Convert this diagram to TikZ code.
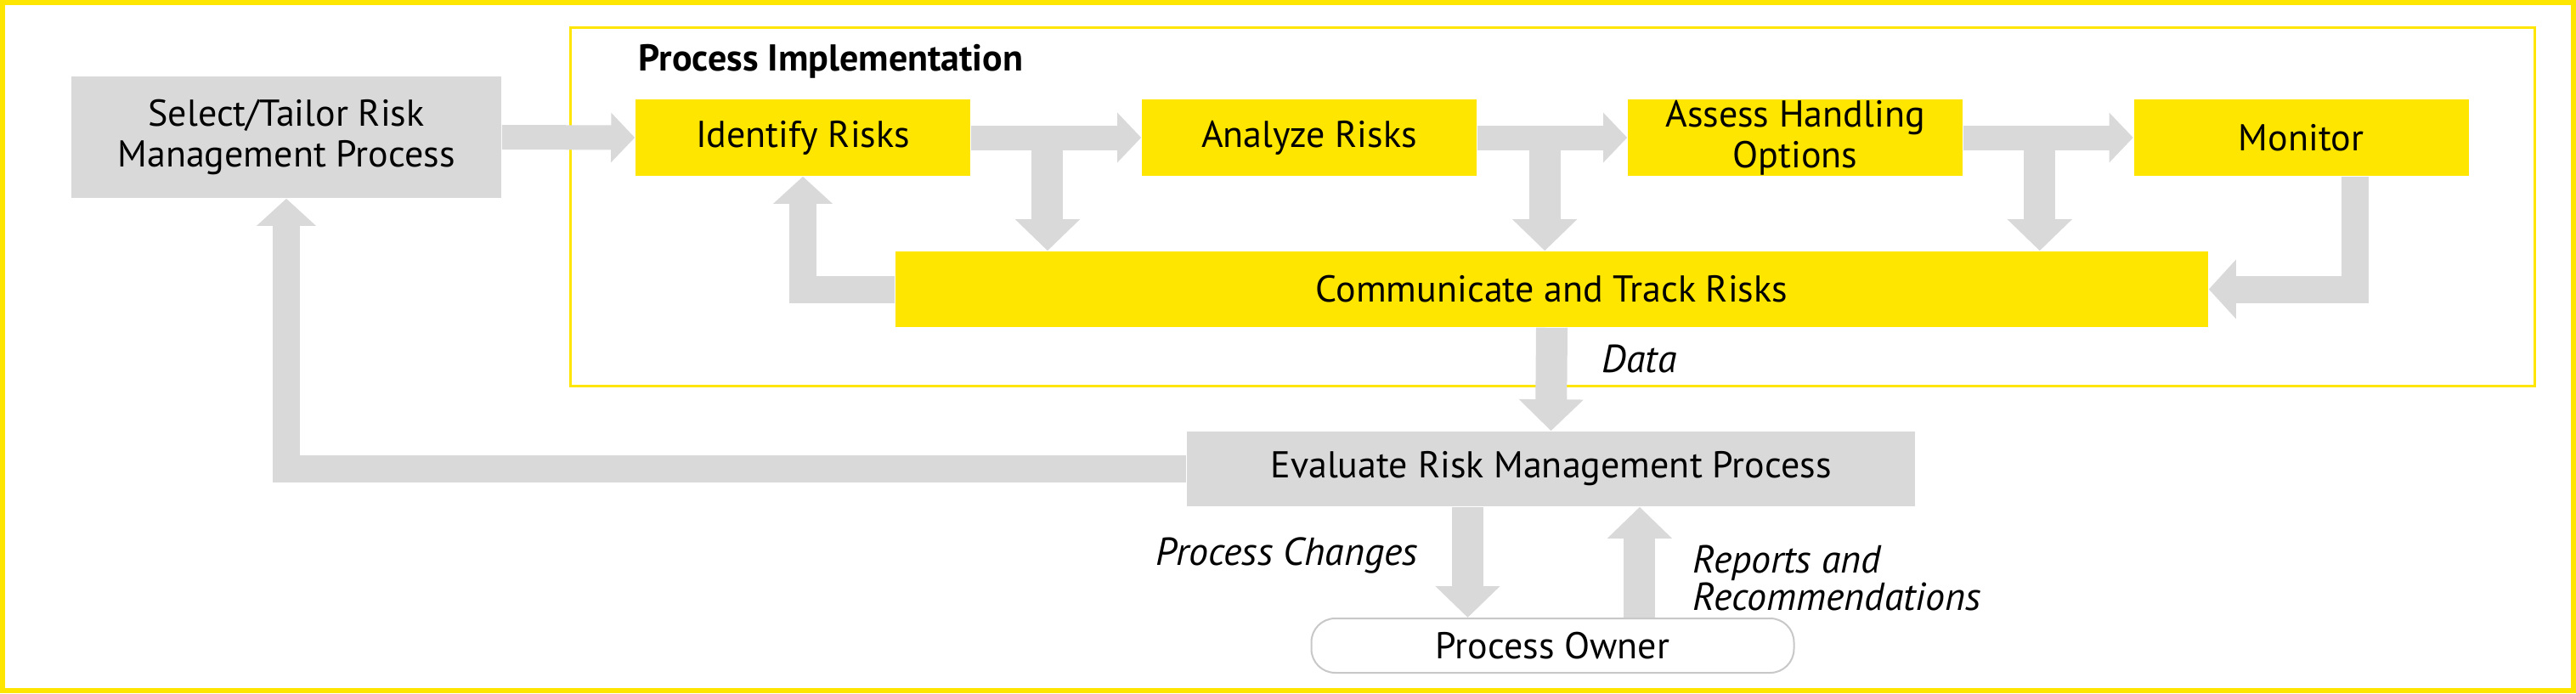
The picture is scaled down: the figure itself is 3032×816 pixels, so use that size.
\documentclass[tikz,border=0pt]{standalone}
\usepackage{fontspec}
\setmainfont{PT Sans}
\usetikzlibrary{calc,arrows.meta}
\definecolor{eyyellow}{HTML}{FFE600}
\definecolor{boxgray}{HTML}{D9D9D9}
\definecolor{rimgray}{HTML}{C8C8C8}

\begin{document}
\begin{tikzpicture}[x=0.25pt,y=-0.25pt,
    every node/.style={font=\fontsize{11}{12}\selectfont},
    stagebox/.style={fill=eyyellow,inner sep=0pt,minimum width=98.5pt,minimum height=22.5pt,align=center},
    evalbox/.style={fill=boxgray,inner sep=0pt,align=center},
    harrow/.style={draw=boxgray,line width=7.25pt,-{Triangle[width=14.25pt,length=7pt]}},
    varrow/.style={draw=boxgray,line width=9.25pt,-{Triangle[width=18.5pt,length=9.25pt]}},
    looparrow/.style={draw=boxgray,line width=8pt,-{Triangle[width=17pt,length=8pt]}},
    tag/.style={font=\fontsize{11.5}{11}\selectfont\itshape,inner sep=0pt}]
              \useasboundingbox (0,0) rectangle (3032,816);
              % frames
              \draw[eyyellow,line width=1.5pt] (3,3) rectangle (3029,813);
              \draw[eyyellow,line width=0.75pt] (671,32) rectangle (2983,454);
              \node[anchor=base west,inner sep=0pt,font=\fontsize{11}{12}\selectfont\bfseries] (impl) at (751,83) {Process Implementation};
              % boxes
              \node[evalbox,minimum width=126.5pt,minimum height=35.75pt] (sel) at (337,161.5) {Select/Tailor Risk\\Management Process};
              \node[stagebox] (ident) at (945,162) {Identify Risks};
              \node[stagebox] (anal) at (1541,162) {Analyze Risks};
              \node[stagebox] (assess) at (2113,162) {Assess Handling\\Options};
              \node[stagebox] (mon) at (2708.5,162) {Monitor};
              \node[stagebox,minimum width=386.25pt,minimum height=22.25pt] (comm) at (1826.5,340.5) {Communicate and Track Risks};
              \node[evalbox,minimum width=214.25pt,minimum height=22pt] (eval) at (1825.5,552) {Evaluate Risk Management Process};
              \node[draw=rimgray,line width=0.5pt,rounded corners=7pt,fill=white,minimum width=142pt,minimum height=16pt,inner sep=0pt] (owner) at (1827.5,760) {Process Owner};
              % arrows
              \foreach \a/\b in {ident/anal,anal/assess,assess/mon}{
                \draw[harrow] (\a.east) -- (\b.west);
                \coordinate (t\a) at ($(\a.east)!0.45!(\b.west)$);
                \draw[varrow] (t\a) -- (t\a |- comm.north);
              }
              \draw[harrow] (sel.east) -- (ident.west);
              \draw[looparrow] (comm.west) -| (ident.south);
              \coordinate (mdrop) at ($(mon.south west)!0.66!(mon.south east)$);
              \draw[looparrow] (mdrop) |- (comm.east);
              \draw[varrow] (comm.south) -- (eval.north);
              \draw[looparrow] (eval.west) -| (sel.south);
              \coordinate (chg) at ([xshift=-24.5pt]eval.south);
              \draw[varrow] (chg) -- (chg |- owner.north);
              \coordinate (rep) at ([xshift=25.6pt]owner.north);
              \draw[varrow] (rep) -- (rep |- eval.south);
              % labels
              \node[tag,anchor=base west] (data) at (1885,438) {Data};
              \node[tag,anchor=base east] (chglbl) at (1670,665) {Process Changes};
              \node[tag,anchor=base west,align=left] (replbl) at (1992,718) {Reports and\\Recommendations};
            \end{tikzpicture}
\end{document}
